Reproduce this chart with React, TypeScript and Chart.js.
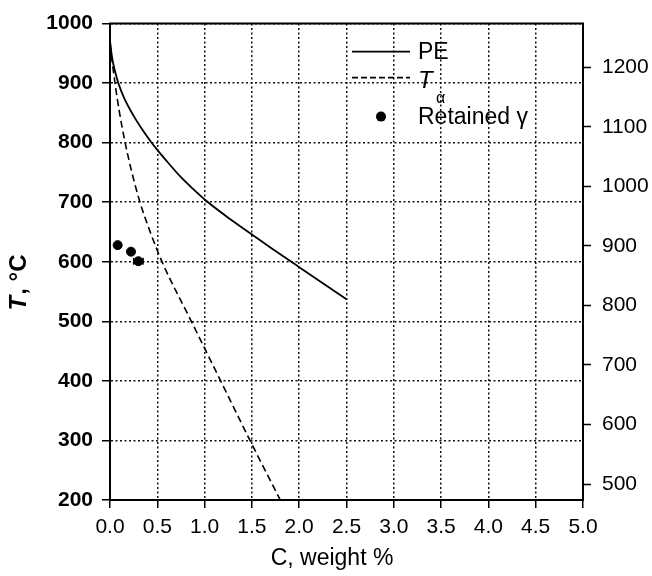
import { useEffect, useRef } from 'react';
import { Chart, registerables } from 'chart.js';

Chart.register(...registerables);

// PE curve (solid): carbon wt% vs temperature °C
const peC = [0, 0.02, 0.05, 0.088, 0.15, 0.25, 0.35, 0.44, 0.5, 0.6, 0.75, 0.88, 1.02, 1.25, 1.5, 1.75, 2.0, 2.25, 2.5];
const peT = [972, 945, 922, 900, 875, 845, 820, 800, 788, 769, 742, 722, 702, 674, 646, 618, 591, 564, 537];

// T_alpha curve (dashed)
const taC = [0, 0.053, 0.1, 0.16, 0.23, 0.317, 0.43, 0.55, 0.86, 1.17, 1.48, 1.8];
const taT = [965, 900, 851, 800, 751, 700, 648, 600, 500, 400, 300, 200];

// Retained gamma points (with horizontal error half-width)
const gammaC = [0.081, 0.222, 0.3];
const gammaT = [628, 617, 601];
const gammaErr = [0, 0, 0.05];

const xMin = 0;
const xMax = 5;
const xStep = 0.5;
const yMin = 200;
const yMax = 1000;
const yStep = 100;
const KELVIN = 273.15;
const kelvinTicks = [500, 600, 700, 800, 900, 1000, 1100, 1200];

const FONT = "'Liberation Sans', Arial, sans-serif";

const errorBarPlugin = {
  id: 'errbars',
  afterDatasetsDraw(chart: any) {
    const { ctx, scales } = chart;
    ctx.save();
    ctx.strokeStyle = '#000';
    ctx.lineWidth = 1.5;
    gammaC.forEach((c, i) => {
      const e = gammaErr[i];
      if (!e) return;
      const y = scales.y.getPixelForValue(gammaT[i]);
      const xa = scales.x.getPixelForValue(c - e);
      const xb = scales.x.getPixelForValue(c + e);
      ctx.beginPath();
      ctx.moveTo(xa, y);
      ctx.lineTo(xb, y);
      ctx.moveTo(xa, y - 3.5);
      ctx.lineTo(xa, y + 3.5);
      ctx.moveTo(xb, y - 3.5);
      ctx.lineTo(xb, y + 3.5);
      ctx.stroke();
    });
    ctx.restore();
  },
};

const decorPlugin = {
  id: 'decor',
  afterDraw(chart: any) {
    const { ctx, chartArea } = chart;
    const L = chartArea.left;
    const T = chartArea.top;
    const R = chartArea.right;
    ctx.save();
    // top frame line
    ctx.strokeStyle = '#000';
    ctx.lineWidth = 2;
    ctx.setLineDash([]);
    ctx.beginPath();
    ctx.moveTo(L - 1, T);
    ctx.lineTo(R + 1, T);
    ctx.stroke();

    // legend
    const x0 = L + 242;
    const x1 = L + 300;
    const tx = L + 308;
    ctx.lineWidth = 1.6;
    ctx.beginPath();
    ctx.moveTo(x0, T + 28);
    ctx.lineTo(x1, T + 28);
    ctx.stroke();
    ctx.setLineDash([6, 3]);
    ctx.beginPath();
    ctx.moveTo(x0, T + 54);
    ctx.lineTo(x1, T + 54);
    ctx.stroke();
    ctx.setLineDash([]);
    ctx.fillStyle = '#000';
    ctx.beginPath();
    ctx.arc(L + 271, T + 93, 5, 0, Math.PI * 2);
    ctx.fill();

    ctx.textBaseline = 'middle';
    ctx.textAlign = 'left';
    ctx.font = `23px ${FONT}`;
    ctx.fillText('PE', tx, T + 29);
    ctx.font = `italic 24px ${FONT}`;
    ctx.fillText('T', tx, T + 58);
    ctx.font = `16px ${FONT}`;
    ctx.fillText('α', tx + 18, T + 75);
    ctx.font = `23px ${FONT}`;
    ctx.fillText('Retained γ', tx, T + 94);

    // x-axis title
    ctx.textAlign = 'center';
    ctx.font = `23px ${FONT}`;
    ctx.fillText('C, weight %', 332, 559);

    // y-axis title (rotated): italic T + ", °C"
    ctx.translate(19, 283);
    ctx.rotate(-Math.PI / 2);
    ctx.textAlign = 'left';
    const f1 = `italic bold 24px ${FONT}`;
    const f2 = `bold 24px ${FONT}`;
    ctx.font = f1;
    const w1 = ctx.measureText('T').width;
    ctx.font = f2;
    const w2 = ctx.measureText(', °C').width;
    const start = -(w1 + w2) / 2;
    ctx.font = f1;
    ctx.fillText('T', start, 0);
    ctx.font = f2;
    ctx.fillText(', °C', start + w1 + 1, 0);
    ctx.restore();
  },
};

export default function App() {
  const ref = useRef<HTMLCanvasElement | null>(null);

  useEffect(() => {
    if (!ref.current) return;
    const chart = new Chart(ref.current, {
      type: 'scatter',
      data: {
        datasets: [
          {
            label: 'PE',
            data: peC.map((c, i) => ({ x: c, y: peT[i] })),
            showLine: true,
            borderColor: '#000',
            borderWidth: 1.8,
            pointRadius: 0,
            cubicInterpolationMode: 'monotone',
          },
          {
            label: 'Tα',
            data: taC.map((c, i) => ({ x: c, y: taT[i] })),
            showLine: true,
            borderColor: '#000',
            borderWidth: 1.6,
            borderDash: [7, 4],
            pointRadius: 0,
            cubicInterpolationMode: 'monotone',
          },
          {
            label: 'Retained γ',
            data: gammaC.map((c, i) => ({ x: c, y: gammaT[i] })),
            showLine: false,
            backgroundColor: '#000',
            borderColor: '#000',
            pointRadius: 4.5,
          },
        ],
      },
      options: {
        animation: false,
        responsive: false,
        layout: { padding: { top: 19, left: 0, right: 0, bottom: 0 } },
        plugins: {
          legend: { display: false },
          tooltip: { enabled: false },
        },
        scales: {
          x: {
            type: 'linear',
            min: xMin,
            max: xMax,
            afterFit: (s: any) => {
              s.height = 76;
            },
            ticks: {
              stepSize: xStep,
              color: '#000',
              padding: 7,
              font: { family: FONT, size: 21 },
              callback: (v: any) => Number(v).toFixed(1),
            },
            grid: {
              color: '#111',
              lineWidth: 1.5,
              tickLength: 8,
              tickColor: '#000',
              tickWidth: 1.5,
            },
            border: { display: true, color: '#000', width: 2, dash: [2, 2.5] },
          },
          y: {
            type: 'linear',
            position: 'left',
            min: yMin,
            max: yMax,
            afterFit: (s: any) => {
              s.width = 110;
            },
            ticks: {
              stepSize: yStep,
              color: '#000',
              padding: 9,
              font: { family: FONT, size: 21, weight: 'bold' },
              callback: (v: any) => String(v),
            },
            grid: {
              color: '#111',
              lineWidth: 1.5,
              tickLength: 8,
              tickColor: '#000',
              tickWidth: 1.5,
            },
            border: { display: true, color: '#000', width: 2, dash: [2, 2.5] },
          },
          y2: {
            type: 'linear',
            position: 'right',
            min: yMin + KELVIN,
            max: yMax + KELVIN,
            afterFit: (s: any) => {
              s.width = 69;
            },
            afterBuildTicks: (s: any) => {
              s.ticks = kelvinTicks.map((v) => ({ value: v }));
            },
            ticks: {
              color: '#000',
              padding: 11,
              font: { family: FONT, size: 21 },
              callback: (v: any) => String(v),
            },
            grid: {
              drawOnChartArea: false,
              tickLength: 8,
              tickColor: '#000',
              tickWidth: 1.5,
            },
            border: { display: true, color: '#000', width: 2 },
          },
        },
      } as any,
      plugins: [errorBarPlugin, decorPlugin],
    });
    return () => chart.destroy();
  }, []);

  return (
    <div style={{ position: 'fixed', left: 0, top: 0, width: 652, height: 576, background: '#fff' }}>
      <canvas ref={ref} width={652} height={576} />
    </div>
  );
}
